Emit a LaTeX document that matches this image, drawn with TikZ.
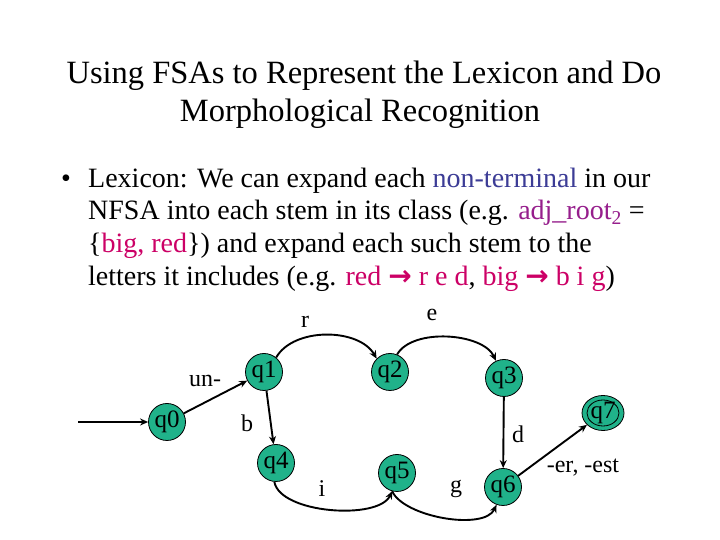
\documentclass[tikz,border=0pt]{standalone}
\usepackage{fontspec}
\setmainfont{Liberation Serif}
\newfontfamily\arrowfont{DejaVu Sans}
\usetikzlibrary{arrows.meta,shapes.geometric}
\definecolor{nodefill}{RGB}{32,178,138}
\definecolor{ntblue}{RGB}{60,60,150}
\definecolor{rootpurple}{RGB}{150,30,140}
\definecolor{stemred}{RGB}{204,0,102}
\newcommand{\myarr}{{\arrowfont\bfseries →}}
\tikzset{
  titletext/.style={anchor=base, inner sep=0pt, font=\fontsize{32.5}{36}\selectfont},
  bodytext/.style={anchor=base west, inner sep=0pt, font=\fontsize{28}{32}\selectfont},
  state/.style={circle, draw=black, line width=0.8pt, fill=nodefill, minimum size=37pt, inner sep=0pt, font=\fontsize{25}{25}\selectfont},
  finalstate/.style={ellipse, draw=black, line width=0.8pt, fill=nodefill, minimum width=42pt, minimum height=35pt, inner sep=0pt, font=\fontsize{25}{25}\selectfont},
  edge/.style={line width=1.9pt, -{Stealth[length=8pt,width=7pt]}},
  lbl/.style={font=\fontsize{24}{24}\selectfont, inner sep=0pt}
}
\begin{document}
\begin{tikzpicture}[x=1pt,y=1pt]
\useasboundingbox (0,0) rectangle (720,540);
\fill[white] (0,0) rectangle (720,540);
% title
\node[titletext] (t1) at (364,456) {Using FSAs to Represent the Lexicon and Do};
\node[titletext] (t2) at (360,418) {Morphological Recognition};
% bullet text
\node[anchor=base, inner sep=0pt, font=\fontsize{28}{32}\selectfont] (bul) at (66,352) {•};
\node[bodytext] (l1) at (88,352) {Lexicon: We can expand each \textcolor{ntblue}{non-terminal} in our};
\node[bodytext] (l2) at (88,320) {NFSA into each stem in its class (e.g. \textcolor{rootpurple}{adj\_root\textsubscript{2}} =};
\node[bodytext] (l3) at (88,287) {\{\textcolor{stemred}{big, red}\}) and expand each such stem to the};
\node[bodytext] (l4) at (88,254) {letters it includes (e.g. \textcolor{stemred}{red \myarr{} r e d}, \textcolor{stemred}{big \myarr{} b i g})};
% states
\node[state] (q0) at (167,118) {q0};
\node[state] (q1) at (264,168) {q1};
\node[state] (q2) at (390,168) {q2};
\node[state] (q3) at (504,162) {q3};
\node[state] (q4) at (276,77) {q4};
\node[state] (q5) at (397,67) {q5};
\node[state] (q6) at (503,53) {q6};
\node[finalstate] (q7) at (603,127) {};
\draw[line width=0.8pt] (q7.center) ellipse [x radius=16pt, y radius=13pt];
\node[lbl, font=\fontsize{25}{25}\selectfont] (q7t) at (q7.center) {q7};
\coordinate (start) at (78,118);
% edges
\draw[edge] (start) -- (q0);
\draw[edge] (q0) -- (q1);
\draw[edge] (q1.50) to[out=60,in=120,looseness=0.9] (q2.135);
\draw[edge] (q2.68) to[out=60,in=115,looseness=0.8] (q3.115);
\draw[edge] (q1) -- (q4);
\draw[edge] (q3) -- (q6);
\draw[edge] (q4.265) to[out=-80,in=-115,looseness=0.7] (q5.255);
\draw[edge] (q5.255) to[out=-65,in=-115,looseness=0.7] (q6.-110);
\draw[edge] (q6) -- (q7);
% labels
\node[lbl] (lr) at (305,218) {r};
\node[lbl] (le) at (432,225) {e};
\node[lbl] (lun) at (205,159) {un-};
\node[lbl] (lb) at (247,117) {b};
\node[lbl] (ld) at (518,106) {d};
\node[lbl] (li) at (322,51) {i};
\node[lbl] (lg) at (456,51) {g};
\node[lbl] (ler) at (583,72) {-er, -est};
\end{tikzpicture}
\end{document}
